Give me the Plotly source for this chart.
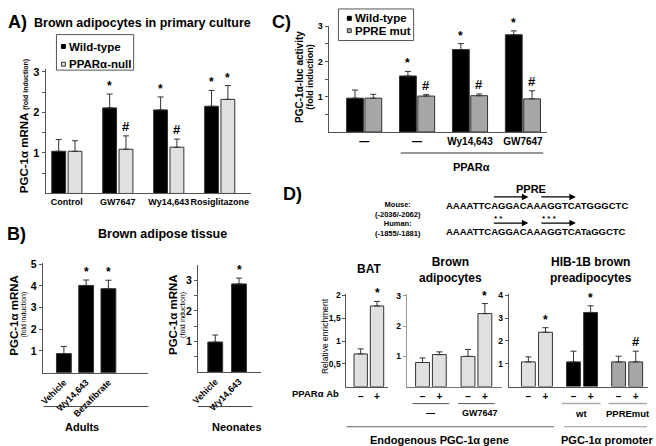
import plotly.graph_objects as go

# ---------------- DATA ----------------
# Panel A: PGC-1a mRNA, brown adipocytes in primary culture
A_categories = ["Control", "GW7647", "Wy14,643", "Rosiglitazone"]
A_wt = [1.04, 2.11, 2.06, 2.15]
A_wt_err = [0.29, 0.34, 0.32, 0.39]
A_null = [1.04, 1.09, 1.14, 2.32]
A_null_err = [0.26, 0.33, 0.20, 0.34]
A_wt_sig = ["", "*", "*", "*"]
A_null_sig = ["", "#", "#", "*"]

# Panel C: PGC-1a-luc activity
C_categories = ["—", "—", "Wy14,643", "GW7647"]
C_wt = [0.96, 1.59, 2.34, 2.76]
C_wt_err = [0.23, 0.13, 0.17, 0.11]
C_mut = [0.96, 1.02, 1.03, 0.94]
C_mut_err = [0.11, 0.04, 0.05, 0.23]
C_wt_sig = ["", "*", "*", "*"]
C_mut_sig = ["", "#", "#", "#"]

# Panel B: brown adipose tissue
B_adult_categories = ["Vehicle", "Wy14,643", "Bezafibrate"]
B_adult = [0.88, 4.02, 3.87]
B_adult_err = [0.33, 0.25, 0.39]
B_adult_sig = ["", "*", "*"]
B_neo_categories = ["Vehicle", "Wy14,643"]
B_neo = [0.98, 2.88]
B_neo_err = [0.23, 0.19]
B_neo_sig = ["", "*"]

# Panel D: ChIP relative enrichment
D_ab = ["–", "+"]
D_bat = [0.72, 1.77]
D_bat_err = [0.11, 0.10]
D_bat_sig = ["", "*"]
D_brown = [0.80, 1.06, 1.00, 2.41]
D_brown_err = [0.15, 0.09, 0.23, 0.33]
D_brown_sig = ["", "", "", "*"]
D_hib = [1.08, 2.38, 1.08, 3.25, 1.08, 1.08]
D_hib_err = [0.22, 0.20, 0.47, 0.29, 0.25, 0.47]
D_hib_sig = ["", "*", "", "*", "", "#"]

# ---------------- LAYOUT HELPERS ----------------
W, H = 656, 446
FONT = "Liberation Sans, Arial, sans-serif"
BLACK = "#000000"
LIGHT = "#e0e0e0"
GRAY = "#a6a6a6"
EDGE = "#333333"


def px(x):
    return x / W


def py(y):
    return 1 - y / H


fig = go.Figure()
annotations = []
shapes = []


def text(x, y, s, size=11, bold=True, angle=0, xanchor="center", yanchor="middle", color="#000"):
    annotations.append(dict(
        x=px(x), y=py(y), xref="paper", yref="paper", text=s, showarrow=False,
        font=dict(family=FONT, size=size, color=color, weight="bold" if bold else "normal"),
        textangle=angle, xanchor=xanchor, yanchor=yanchor, borderpad=0,
    ))


def hline(x0, x1, y, color="#444", width=1):
    shapes.append(dict(type="line", xref="paper", yref="paper", x0=px(x0), x1=px(x1),
                       y0=py(y), y1=py(y), line=dict(color=color, width=width)))


def rect(x0, y0, x1, y1, fill, line="#333", width=1):
    shapes.append(dict(type="rect", xref="paper", yref="paper", x0=px(x0), x1=px(x1),
                       y0=py(y0), y1=py(y1), fillcolor=fill, line=dict(color=line, width=width)))


def bars(ax, xs, vals, errs, color, width, sigs=None, sig_size=12):
    fig.add_trace(go.Bar(
        x=xs, y=vals, width=width, offset=-width / 2,
        marker=dict(color=color, line=dict(color=EDGE, width=1)),
        error_y=dict(type="data", array=errs, arrayminus=[0] * len(vals), symmetric=False,
                     color=EDGE, thickness=1, width=3),
        xaxis="x" + ax, yaxis="y" + ax, showlegend=False, hoverinfo="skip",
    ))
    if sigs:
        for x, v, e, s in zip(xs, vals, errs, sigs):
            if s:
                annotations.append(dict(
                    x=x, y=v + e, xref="x" + ax, yref="y" + ax, text=s, showarrow=False,
                    yanchor="bottom", yshift=-1 if s == "*" else 0,
                    font=dict(family=FONT, size=sig_size if s == "*" else sig_size + 1,
                              weight="bold", color="#000"),
                ))


def axes(ax, xdom, ydom, xrange, yrange, tickvals, ticktext, yvals, ytext,
         tickfont=10, xfont=9, xangle=0, ycolor="#555", xcolor="#555"):
    layout_x = dict(domain=[px(xdom[0]), px(xdom[1])], range=xrange, showline=True,
                    linecolor=xcolor, linewidth=1, ticks="", showgrid=False, zeroline=False,
                    tickvals=tickvals, ticktext=ticktext, tickangle=xangle,
                    tickfont=dict(family=FONT, size=xfont, weight="bold", color="#000"),
                    anchor="y" + ax, fixedrange=True)
    layout_y = dict(domain=[py(ydom[1]), py(ydom[0])], range=yrange, showline=True,
                    linecolor=ycolor, linewidth=1, ticks="outside", ticklen=3, tickcolor=ycolor,
                    showgrid=False, zeroline=False, tickvals=yvals, ticktext=ytext,
                    tickfont=dict(family=FONT, size=tickfont, weight="bold", color="#000"),
                    anchor="x" + ax, fixedrange=True)
    key = "" if ax == "" else ax
    fig.update_layout(**{"xaxis" + key: layout_x, "yaxis" + key: layout_y})


# ---------------- PANEL A ----------------
nA = len(A_categories)
gA = list(range(nA))
spA = 51.5   # px per group
bwA = 14 / spA
offA = 8.25 / spA
bars("", [g - offA for g in gA], A_wt, A_wt_err, BLACK, bwA, A_wt_sig)
bars("", [g + offA for g in gA], A_null, A_null_err, LIGHT, bwA, A_null_sig)
axes("", (39, 247), (64, 190), [(39 - 60.5) / spA, (247 - 60.5) / spA], [0, 126 / 41.1],
     gA, A_categories, [0.5, 1, 1.5, 2, 2.5, 3], ["", "1", "", "2", "", "3"],
     tickfont=11, xfont=9)
text(11, 16, "A)", size=18, xanchor="center")
text(137, 17, "Brown adipocytes in primary culture", size=12.5)
text(18, 122, "PGC-1α mRNA <span style='font-size:7px'>(fold induction)</span>", size=11.5, angle=-90)
# legend A
rect(50, 29, 128, 65, "rgba(0,0,0,0)", line="#555")
rect(55, 39, 59, 43, BLACK, line=BLACK)
rect(55, 57, 59, 61, LIGHT, line=EDGE)
text(62, 41.5, "Wild-type", size=11.5, xanchor="left")
text(62, 59, "PPARα-null", size=11.5, xanchor="left")

# ---------------- PANEL C ----------------
nC = len(C_categories)
gC = list(range(nC))
spC = 53.5
bwC = 17 / spC
offC = 9.25 / spC
bars("2", [g - offC for g in gC], C_wt, C_wt_err, BLACK, bwC, C_wt_sig)
bars("2", [g + offC for g in gC], C_mut, C_mut_err, GRAY, bwC, C_mut_sig)
axes("2", (325, 546), (20, 127.7), [(325 - 361) / spC, (546 - 361) / spC], [0, 107.7 / 35.7],
     gC, C_categories, [0.5, 1, 1.5, 2, 2.5, 3], ["", "1", "", "2", "", "3"],
     tickfont=9, xfont=10)
text(277, 16, "C)", size=18)
text(295, 72, "PGC-1α-luc activity", size=10, angle=-90)
text(306, 72, "(fold induction)", size=9, angle=-90)
hline(398, 542, 149, color="#333")
text(470, 163, "PPARα", size=11)
# legend C
rect(335, 3, 411, 35, "rgba(0,0,0,0)", line="#555")
rect(344, 10.5, 348, 14.5, BLACK, line=BLACK)
rect(344, 23, 348, 27, GRAY, line=EDGE)
text(351, 12.5, "Wild-type", size=11.5, xanchor="left")
text(351, 25, "PPRE mut", size=11.5, xanchor="left")

# ---------------- PANEL B ----------------
nB1 = len(B_adult_categories)
gB1 = list(range(nB1))
spB1 = 22.5
bars("3", gB1, B_adult, B_adult_err, BLACK, 15 / spB1, B_adult_sig)
axes("3", (36, 143), (261, 371.7), [(36 - 57.5) / spB1, (143 - 57.5) / spB1], [0, 110.7 / 22],
     gB1, B_adult_categories, [1, 2, 3, 4, 5], ["1", "2", "3", "4", "5"],
     tickfont=10.5, xfont=9, xangle=-45)
nB2 = len(B_neo_categories)
gB2 = list(range(nB2))
spB2 = 24
bars("4", gB2, B_neo, B_neo_err, BLACK, 15 / spB2, B_neo_sig)
axes("4", (193, 257), (263, 371), [(193 - 210.5) / spB2, (257 - 210.5) / spB2], [0, 108 / 31],
     gB2, B_neo_categories, [0.5, 1, 1.5, 2, 2.5, 3, 3.5], ["", "1", "", "2", "", "3", ""],
     tickfont=10.5, xfont=9, xangle=-45)
text(10, 231, "B)", size=18)
text(157, 231, "Brown adipose tissue", size=12.5)
text(7, 313, "PGC-1α mRNA", size=11.5, angle=-90)
text(17, 313, "(fold induction)", size=7, bold=False, angle=-90)
text(168, 313, "PGC-1α mRNA", size=11.5, angle=-90)
text(178, 313, "(fold induction)", size=7, bold=False, angle=-90)
hline(37, 143, 406, color="#444")
hline(193, 248, 406, color="#444")
text(76, 427, "Adults", size=11)
text(232, 427, "Neonates", size=11)

# ---------------- PANEL D ----------------
# BAT
gD1 = list(range(len(D_bat)))
spD1 = 16.5
bars("5", gD1, D_bat, D_bat_err, LIGHT, 13.5 / spD1, D_bat_sig)
axes("5", (343, 385), (292, 386), [(343 - 357.5) / spD1, (385 - 357.5) / spD1], [0, 94 / 46.3],
     gD1, D_ab, [0.5, 1, 1.5, 2], ["0,5", "1", "1,5", "2"], tickfont=8.5, xfont=10)
# Brown adipocytes
spD2 = 17
gapD = 12 / 17
gD2 = [i + gapD * (i // 2) for i in range(len(D_brown))]
bars("6", gD2, D_brown, D_brown_err, LIGHT, 14 / spD2, D_brown_sig)
axes("6", (404, 500), (292, 386), [(404 - 420) / spD2, (500 - 420) / spD2], [0, 94 / 30.8],
     gD2, D_ab * 2, [1, 2, 3], ["1", "2", "3"], tickfont=8.5, xfont=10,
     ycolor="#999", xcolor="#777")
# HIB-1B
spD3 = 17.3
gapD3 = 11 / 17.3
gD3 = [i + gapD3 * (i // 2) for i in range(len(D_hib))]
hib_colors = [LIGHT, LIGHT, BLACK, BLACK, GRAY, GRAY]
bars("7", gD3, D_hib, D_hib_err, hib_colors, 14 / spD3, D_hib_sig)
axes("7", (507, 648), (292, 385.7), [(507 - 527) / spD3, (648 - 527) / spD3], [0, 93.7 / 23.1],
     gD3, D_ab * 3, [1, 2, 3, 4], ["1", "2", "3", "4"], tickfont=8.5, xfont=10)

text(289, 191, "D)", size=18)
# sequences
text(530, 186, "PPRE", size=11)
for (x0, x1, y) in [(491, 527, 193.5), (539, 575, 193.5), (491, 527, 220), (539, 575, 220)]:
    annotations.append(dict(x=px(x1), y=py(y), ax=-(x1 - x0), ay=0, xref="paper", yref="paper",
                            axref="pixel", ayref="pixel", showarrow=True, arrowhead=2,
                            arrowsize=1, arrowwidth=1.3, arrowcolor="#000", text=""))
text(395, 206, "Mouse:<br>(-2036/-2062)", size=7.5)
text(395, 225.5, "Human:<br>(-1855/-1881)", size=7.5)
text(443, 202, "AAAATTCAGGACAAAGGTCATGGGCTC", size=9.5, xanchor="left")
text(443, 229, "AAAATTCAGGACAAAGGTCATaGGCTC", size=9.5, xanchor="left")
text(497, 215, "* *", size=8)
text(548, 215, "* * *", size=8)

text(366, 267, "BAT", size=12)
text(448, 268, "Brown<br>adipocytes", size=12)
text(590, 268, "HIB-1B brown<br>preadipocytes", size=12)
text(322, 335, "Relative enrichment", size=8.5, bold=False, angle=-90)
text(337, 393, "PPARα Ab", size=9.5, xanchor="right")

hline(410, 447, 403, color="#555")
hline(456, 493, 403, color="#555")
hline(561, 600, 403, color="#aaa", width=1.5)
hline(608, 647, 403, color="#aaa", width=1.5)
text(428, 413, "—", size=9)
text(478, 413, "GW7647", size=9)
text(580, 413, "wt", size=9.5)
text(628, 413, "PPREmut", size=9.5)
hline(343, 553, 426.5, color="#666")
hline(563, 647, 426.5, color="#999")
text(437, 440, "Endogenous PGC-1α gene", size=11)
text(606, 440, "PGC-1α promoter", size=11)

fig.update_layout(
    width=W, height=H, autosize=False,
    margin=dict(l=0, r=0, t=0, b=0),
    paper_bgcolor="white", plot_bgcolor="white",
    barmode="overlay", showlegend=False,
    font=dict(family=FONT, color="#000"),
    annotations=annotations, shapes=shapes,
)

fig.write_html("out.html", config={"displayModeBar": False},
               post_script="document.body.style.margin='0';document.body.style.overflow='hidden';")
